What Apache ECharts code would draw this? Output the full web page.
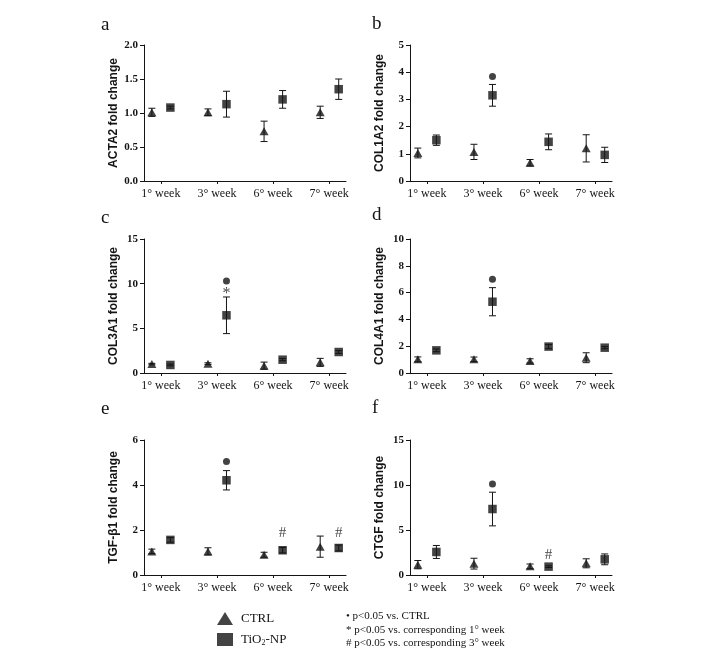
<!DOCTYPE html>
<html>
<head>
<meta charset="utf-8">
<script src="https://cdn.jsdelivr.net/npm/echarts@6/dist/echarts.min.js"></script>
<style>
html,body{margin:0;padding:0;background:#fff;}
#chart{width:717px;height:652px;}
</style>
</head>
<body>
<div id="chart"></div>
<script>
// ---- categories ----
const weeks = ['1° week', '3° week', '6° week', '7° week'];

// ---- a: ACTA2 ----
const acta2Ctrl = [1.01, 1.01, 0.73, 1.01];
const acta2CtrlErr = [0.06, 0.05, 0.15, 0.09];
const acta2Tio = [1.08, 1.13, 1.20, 1.35];
const acta2TioErr = [0.02, 0.19, 0.13, 0.15];
const acta2Dot = [null, null, null, null];
const acta2Star = [null, null, null, null];
const acta2Hash = [null, null, null, null];

// ---- b: COL1A2 ----
const col1a2Ctrl = [1.03, 1.07, 0.67, 1.20];
const col1a2CtrlErr = [0.18, 0.28, 0.12, 0.50];
const col1a2Tio = [1.50, 3.15, 1.44, 0.96];
const col1a2TioErr = [0.19, 0.40, 0.29, 0.28];
const col1a2Dot = [null, 3.84, null, null];
const col1a2Star = [null, null, null, null];
const col1a2Hash = [null, null, null, null];

// ---- c: COL3A1 ----
const col3a1Ctrl = [1.00, 1.04, 0.82, 1.19];
const col3a1CtrlErr = [0.08, 0.10, 0.40, 0.45];
const col3a1Tio = [0.90, 6.46, 1.49, 2.35];
const col3a1TioErr = [0.10, 2.05, 0.12, 0.15];
const col3a1Dot = [null, 10.3, null, null];
const col3a1Star = [null, 9.2, null, null];
const col3a1Hash = [null, null, null, null];

// ---- d: COL4A1 ----
const col4a1Ctrl = [1.02, 1.02, 0.90, 1.14];
const col4a1CtrlErr = [0.18, 0.17, 0.16, 0.37];
const col4a1Tio = [1.69, 5.32, 1.97, 1.89];
const col4a1TioErr = [0.10, 1.05, 0.15, 0.08];
const col4a1Dot = [null, 7.0, null, null];
const col4a1Star = [null, null, null, null];
const col4a1Hash = [null, null, null, null];

// ---- e: TGF-β1 ----
const tgfCtrl = [1.05, 1.05, 0.90, 1.26];
const tgfCtrlErr = [0.10, 0.16, 0.11, 0.47];
const tgfTio = [1.56, 4.21, 1.10, 1.20];
const tgfTioErr = [0.10, 0.43, 0.12, 0.13];
const tgfDot = [null, 5.04, null, null];
const tgfStar = [null, null, null, null];
const tgfHash = [null, null, 1.87, 1.87];

// ---- f: CTGF ----
const ctgfCtrl = [1.15, 1.26, 0.96, 1.30];
const ctgfCtrlErr = [0.46, 0.60, 0.26, 0.50];
const ctgfTio = [2.56, 7.33, 0.93, 1.74];
const ctgfTioErr = [0.72, 1.87, 0.10, 0.60];
const ctgfDot = [null, 10.1, null, null];
const ctgfStar = [null, null, null, null];
const ctgfHash = [null, null, 2.26, null];

// ---- y axis ticks ----
const yMaxes = [2, 5, 15, 10, 6, 15];
const yIntervals = [0.5, 1, 5, 2, 2, 5];
const yDecimals = [1, 0, 0, 0, 0, 0];
const yTitles = ['ACTA2 fold change', 'COL1A2 fold change', 'COL3A1 fold change',
                 'COL4A1 fold change', 'TGF-β1 fold change', 'CTGF fold change'];
const letters = ['a', 'b', 'c', 'd', 'e', 'f'];

const panels = [
  {ctrl: acta2Ctrl, ctrlErr: acta2CtrlErr, tio: acta2Tio, tioErr: acta2TioErr, dot: acta2Dot, star: acta2Star, hash: acta2Hash},
  {ctrl: col1a2Ctrl, ctrlErr: col1a2CtrlErr, tio: col1a2Tio, tioErr: col1a2TioErr, dot: col1a2Dot, star: col1a2Star, hash: col1a2Hash},
  {ctrl: col3a1Ctrl, ctrlErr: col3a1CtrlErr, tio: col3a1Tio, tioErr: col3a1TioErr, dot: col3a1Dot, star: col3a1Star, hash: col3a1Hash},
  {ctrl: col4a1Ctrl, ctrlErr: col4a1CtrlErr, tio: col4a1Tio, tioErr: col4a1TioErr, dot: col4a1Dot, star: col4a1Star, hash: col4a1Hash},
  {ctrl: tgfCtrl, ctrlErr: tgfCtrlErr, tio: tgfTio, tioErr: tgfTioErr, dot: tgfDot, star: tgfStar, hash: tgfHash},
  {ctrl: ctgfCtrl, ctrlErr: ctgfCtrlErr, tio: ctgfTio, tioErr: ctgfTioErr, dot: ctgfDot, star: ctgfStar, hash: ctgfHash}
];

// ---- layout (pixels) ----
const gridBoxes = [
  {left: 144, top: 45, width: 202, height: 136},
  {left: 410, top: 45, width: 202, height: 136},
  {left: 144, top: 239, width: 202, height: 134},
  {left: 410, top: 239, width: 202, height: 134},
  {left: 144, top: 440, width: 202, height: 135},
  {left: 410, top: 440, width: 202, height: 135}
];
const letterPos = [[101, 16], [372, 15], [101, 209], [372, 206], [101, 400], [372, 399]];
const ctrlShift = -0.16, tioShift = 0.17;

const SERIF = '"Liberation Serif", "Times New Roman", serif';
const SANS = '"Liberation Sans", Arial, sans-serif';
const INK = '#141414';

function errorRender(params, api) {
  const x = api.value(0), lo = api.value(1), hi = api.value(2);
  const top = api.coord([x, hi]);
  const bot = api.coord([x, lo]);
  const cap = 3.5;
  const st = {stroke: INK, lineWidth: 1};
  return {
    type: 'group',
    children: [
      {type: 'line', shape: {x1: top[0], y1: top[1], x2: bot[0], y2: bot[1]}, style: st},
      {type: 'line', shape: {x1: top[0] - cap, y1: top[1], x2: top[0] + cap, y2: top[1]}, style: st},
      {type: 'line', shape: {x1: bot[0] - cap, y1: bot[1], x2: bot[0] + cap, y2: bot[1]}, style: st}
    ]
  };
}

const grid = [], xAxis = [], yAxis = [], series = [], graphic = [];

panels.forEach((p, i) => {
  grid.push(Object.assign({containLabel: false, outerBoundsMode: 'none'}, gridBoxes[i]));
  xAxis.push({
    type: 'value', gridIndex: i, min: 0.7, max: 4.3,
    splitLine: {show: false},
    axisLine: {show: true, onZero: false, lineStyle: {color: INK, width: 1}},
    axisTick: {show: true, length: 3, customValues: [1, 2, 3, 4], lineStyle: {color: INK}},
    axisLabel: {
      show: true, customValues: [1, 2, 3, 4], margin: 7,
      fontFamily: SERIF, fontSize: 12, color: INK,
      formatter: v => weeks[Math.round(v) - 1] || ''
    }
  });
  yAxis.push({
    type: 'value', gridIndex: i, min: 0, max: yMaxes[i], interval: yIntervals[i],
    splitLine: {show: false},
    axisLine: {show: true, lineStyle: {color: INK, width: 1}},
    axisTick: {show: true, length: 4, lineStyle: {color: INK}},
    axisLabel: {
      margin: 6, fontFamily: SERIF, fontWeight: 'bold', fontSize: 11, color: INK,
      formatter: v => v.toFixed(yDecimals[i])
    },
    name: yTitles[i], nameLocation: 'middle', nameGap: 24, nameRotate: 90,
    nameTextStyle: {fontFamily: SANS, fontWeight: 'bold', fontSize: 12, color: INK}
  });

  const ctrlPts = p.ctrl.map((v, k) => [k + 1 + ctrlShift, v]);
  const tioPts = p.tio.map((v, k) => [k + 1 + tioShift, v]);
  const ctrlErr = p.ctrl.map((v, k) => [k + 1 + ctrlShift, v - p.ctrlErr[k], v + p.ctrlErr[k]]);
  const tioErr = p.tio.map((v, k) => [k + 1 + tioShift, v - p.tioErr[k], v + p.tioErr[k]]);

  series.push({
    type: 'custom', xAxisIndex: i, yAxisIndex: i, renderItem: errorRender,
    encode: {x: 0, y: [1, 2]}, data: ctrlErr.concat(tioErr), clip: false, z: 1, silent: true
  });
  series.push({
    name: 'CTRL', type: 'scatter', xAxisIndex: i, yAxisIndex: i, symbol: 'triangle',
    symbolSize: [9, 8], itemStyle: {color: INK}, data: ctrlPts, clip: false, z: 3, silent: true
  });
  series.push({
    name: 'TiO2-NP', type: 'scatter', xAxisIndex: i, yAxisIndex: i, symbol: 'rect',
    symbolSize: [8.5, 8.5], itemStyle: {color: INK}, data: tioPts, clip: false, z: 3, silent: true
  });
  const dotPts = p.dot.map((v, k) => v == null ? null : [k + 1 + tioShift, v]).filter(Boolean);
  if (dotPts.length) series.push({
    type: 'scatter', xAxisIndex: i, yAxisIndex: i, symbol: 'circle', symbolSize: 7,
    itemStyle: {color: INK}, data: dotPts, clip: false, z: 3, silent: true
  });
  [['*', p.star, 16, 3], ['#', p.hash, 15, 0]].forEach(([ch, arr, fs, dy]) => {
    const pts = arr.map((v, k) => v == null ? null : [k + 1 + tioShift, v]).filter(Boolean);
    if (pts.length) series.push({
      type: 'scatter', xAxisIndex: i, yAxisIndex: i, symbol: 'circle', symbolSize: 1,
      itemStyle: {color: 'rgba(0,0,0,0)'}, data: pts, clip: false, z: 4, silent: true,
      label: {show: true, position: 'inside', formatter: ch, fontFamily: SERIF, fontSize: fs,
              color: INK, offset: [0, dy]}
    });
  });

  graphic.push({
    type: 'text', left: letterPos[i][0], top: letterPos[i][1],
    style: {text: letters[i], font: '19px ' + SERIF, fill: INK}
  });
});

// legend notes (right side)
const notes = ['• p<0.05 vs. CTRL', '* p<0.05 vs. corresponding 1° week', '# p<0.05 vs. corresponding 3° week'];
notes.forEach((t, k) => {
  graphic.push({
    type: 'text', left: 346, top: 611 + k * 13.5,
    style: {text: t, font: '11px ' + SERIF, fill: INK}
  });
});

const legendText = {
  color: INK,
  rich: {
    a: {fontFamily: SERIF, fontSize: 13, color: INK, padding: [0, 0, 0, 3]},
    n: {fontFamily: SERIF, fontSize: 13, color: INK},
    s: {fontFamily: SERIF, fontSize: 8, color: INK, padding: [7, 0, 0, 0]}
  }
};

const chart = echarts.init(document.getElementById('chart'), null, {renderer: 'canvas'});
chart.setOption({
  animation: false,
  backgroundColor: '#fff',
  grid, xAxis, yAxis, series, graphic,
  legend: [
    {
      orient: 'vertical', left: 217, top: 612, itemWidth: 16, itemHeight: 13,
      selectedMode: false, padding: 0,
      data: [{name: 'CTRL', icon: 'triangle'}],
      itemStyle: {color: INK},
      formatter: () => '{a|CTRL}',
      textStyle: legendText
    },
    {
      orient: 'vertical', left: 217, top: 633, itemWidth: 16, itemHeight: 13,
      selectedMode: false, padding: 0,
      data: [{name: 'TiO2-NP', icon: 'rect'}],
      itemStyle: {color: INK},
      formatter: () => '{a|TiO}{s|2}{n|-NP}',
      textStyle: legendText
    }
  ]
});
</script>
</body>
</html>
